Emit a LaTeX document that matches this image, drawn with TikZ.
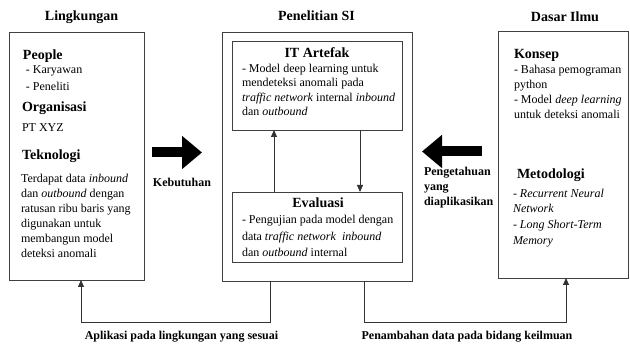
\documentclass[tikz,border=0pt]{standalone}
\usepackage{fontspec}
\setmainfont{Liberation Serif}
\usetikzlibrary{arrows.meta,positioning,calc}

\begin{document}
\begin{tikzpicture}[
  x=1pt, y=-1pt,
  every node/.style={inner sep=0pt, outer sep=0pt},
  panel/.style={
    draw=black!75,
    line width=0.8pt,
    fill=white
  },
  colTitle/.style={font=\fontsize{14}{16}\selectfont\bfseries, anchor=base},
  head/.style={font=\fontsize{14}{16}\selectfont\bfseries, anchor=base west},
  item/.style={font=\fontsize{12}{15}\selectfont, anchor=base west},
  body/.style={font=\fontsize{12}{15}\selectfont, align=left, anchor=north west},
  flowLabel/.style={font=\fontsize{12}{15}\selectfont\bfseries},
  arrow/.style={
    -{Triangle[length=7pt,width=6pt]},
    draw=black!80,
    line width=0.8pt
  },
  bigArrow/.style={
    -{Triangle[length=20pt,width=32pt]},
    line width=10pt
  }
]

% fixed frame, same as the reference
\useasboundingbox (0,0) rectangle (630,347);

% ------------------------------------------------
% Column titles
% ------------------------------------------------
\node[colTitle] (tEnv) at (81.5,21) {Lingkungan};
\node[colTitle] (tRes) at (316.5,21) {Penelitian SI};
\node[colTitle] (tKb)  at (565,22) {Dasar Ilmu};

% ------------------------------------------------
% Boxes
% ------------------------------------------------
\node[panel, minimum width=135pt, minimum height=248pt] (env) at (76.5,156) {};
\node[panel, minimum width=190pt, minimum height=249pt] (research) at (317,156.5) {};
\node[panel, minimum width=170pt, minimum height=89pt] (itArtefak) at (317,85.5) {};
\node[panel, minimum width=170pt, minimum height=70pt] (evaluasi) at (317,227) {};
\node[panel, minimum width=130pt, minimum height=247pt] (kb) at (563,154.5) {};

% Lingkungan
\node[head] (people) at (23,60) {People};
\node[item] (karyawan) at (26,74) {- Karyawan};
\node[item] (peneliti) at (26,91) {- Peneliti};
\node[head] (organisasi) at (22,112) {Organisasi};
\node[item] (ptxyz) at (22,132) {PT XYZ};
\node[head] (teknologi) at (22,160) {Teknologi};
\node[body] (tekText) at (21,173.8) {Terdapat data \textit{inbound}\\
  dan \textit{outbound} dengan\\ ratusan ribu baris yang\\ digunakan untuk\\
  membangun model\\ deteksi anomali};

% Penelitian SI
\node[colTitle] (itTitle) at (317,58) {IT Artefak};
\node[body, font=\fontsize{12}{14.5}\selectfont] (itText) at (242,63.8) {- Model deep learning untuk\\
  mendeteksi anomali pada\\ \textit{traffic network} internal \textit{inbound}\\
  dan \textit{outbound}};
\node[colTitle] (evTitle) at (318,208) {Evaluasi};
\node[body, font=\fontsize{12}{16.8}\selectfont] (evText) at (242,215) {- Pengujian pada model dengan\\
  data \textit{traffic network}\ \ \textit{inbound}\\ dan \textit{outbound} internal};

% Dasar Ilmu
\node[head] (konsep) at (514,59) {Konsep};
\node[body] (konsepText) at (514,64.8) {- Bahasa pemograman\\ python\\
  - Model \textit{deep learning}\\ untuk deteksi anomali};
\node[head] (metodologi) at (517,179) {Metodologi};
\node[body, font=\fontsize{12}{15.7}\selectfont] (metodeText) at (513,188.8) {- \textit{Recurrent Neural}\\
  \textit{Network}\\ - \textit{Long Short-Term}\\ \textit{Memory}};

% ------------------------------------------------
% Big arrows between columns
% ------------------------------------------------
\coordinate (needTail) at (152,152.5);
\coordinate (needTip)  at (202,152.5);
\coordinate (knowTail) at (482,151.5);
\coordinate (knowTip)  at (422,151.5);

\draw[bigArrow] (needTail) -- (needTip);
\draw[bigArrow] (knowTail) -- (knowTip);

\node[flowLabel, anchor=base] (need) at (182,187) {Kebutuhan};
\node[flowLabel, align=left, anchor=north west] (know) at (424,166.8)
  {Pengetahuan\\ yang\\ diaplikasikan};

% ------------------------------------------------
% Cycle inside Penelitian SI
% ------------------------------------------------
\draw[arrow] ([xshift=-43pt]evaluasi.north) -- ([xshift=-43pt]itArtefak.south);
\draw[arrow] ([xshift=43pt]itArtefak.south) -- ([xshift=43pt]evaluasi.north);

% ------------------------------------------------
% Feedback lanes below the boxes
% ------------------------------------------------
\coordinate (laneLow) at (0,322);
\coordinate (applyStart) at ([xshift=-47pt]research.south);
\coordinate (applyEnd)   at ([xshift=4.5pt]env.south);
\coordinate (addStart)   at ([xshift=47pt]research.south);
\coordinate (addEnd)     at ([xshift=3pt]kb.south);

\draw[arrow] (applyStart) |- (laneLow -| applyEnd) -- (applyEnd);
\draw[arrow] (addStart) |- (laneLow -| addEnd) -- (addEnd);

\node[flowLabel, anchor=base] (apply) at (181.5,340) {Aplikasi pada lingkungan yang sesuai};
\node[flowLabel, anchor=base] (add) at (467,340) {Penambahan data pada bidang keilmuan};

\end{tikzpicture}
\end{document}
